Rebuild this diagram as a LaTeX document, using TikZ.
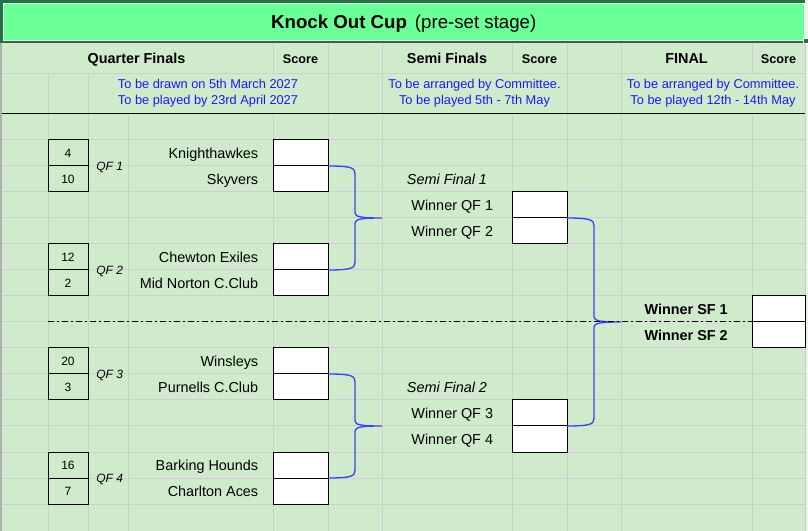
\documentclass[tikz,border=0pt]{standalone}
\usepackage{fontspec}
\setmainfont{Liberation Sans}
\usetikzlibrary{positioning,calc}
\definecolor{sheet}{HTML}{CFEBCB}
\definecolor{gridcol}{HTML}{D2CAD4}
\definecolor{banner}{HTML}{6BFF97}
\definecolor{select}{HTML}{217346}
\definecolor{note}{HTML}{1A1AF0}
\definecolor{bracecol}{HTML}{3548F0}
\definecolor{edge}{HTML}{B0B0B0}

% curly bracket from the lower box of one tie to the upper box of the next
\newcommand\joinpair[2]{%
  \path ($(#1)!0.5!(#2)+(54,0)$) coordinate (tip);
  \draw[bracket] (#1) .. controls +(24,0) and +(0,-6) .. ++(27,8)
    -- ($(tip)+(-27,-5)$) .. controls +(0,4) and +(-20,0) .. (tip)
    .. controls +(-20,0) and +(0,-4) .. ($(tip)+(-27,5)$)
    -- ($(#2)+(27,-8)$) .. controls +(0,6) and +(24,0) .. (#2);}

\begin{document}
\begin{tikzpicture}[x=0.75pt, y=-0.75pt,
    font=\fontsize{10.8}{13}\selectfont,
    seed/.style={draw, line width=0.75pt, outer sep=0pt, inner sep=0pt, minimum width=30pt, minimum height=19.5pt, font=\fontsize{9}{11}\selectfont},
    score/.style={draw, fill=white, line width=0.75pt, outer sep=0pt, minimum width=41.25pt, minimum height=19.5pt},
    team/.style={inner sep=0pt, text height=7.7pt, text depth=0pt},
    round/.style={team, font=\fontsize{10.8}{13}\selectfont\itshape},
    winner/.style={team, font=\fontsize{10.8}{13}\selectfont\bfseries},
    qf/.style={inner sep=0pt, text height=6.4pt, text depth=0pt, font=\fontsize{9}{11}\selectfont\itshape},
    head/.style={anchor=base, inner sep=0pt, font=\fontsize{10.8}{13}\selectfont\bfseries},
    scorehead/.style={anchor=base, inner sep=0pt, font=\fontsize{9.5}{11}\selectfont\bfseries},
    note/.style={anchor=base, inner sep=0pt, text=note, font=\fontsize{9.6}{12}\selectfont},
    gridline/.style={draw=gridcol, line width=0.75pt},
    bracket/.style={draw=bracecol, line width=1pt},
    divider/.style={draw=black, line width=0.75pt, dash pattern=on 4.5pt off 2.25pt on 1.5pt off 2.25pt}
  ]
  % sheet and grid
  \useasboundingbox (0,0) rectangle (808,531);
  \fill[sheet] (0,0) rectangle (808,531);
  \fill[edge] (0,43) rectangle (2,531);
  \fill[sheet!45!white] (805,0) rectangle (808,531);
  \foreach \y in {140,166,...,504} \draw[gridline] (2,\y) -- (805,\y);
  \foreach \x in {48,88,128,273,328,382,512,567,621,752,805} \draw[gridline] (\x,114) -- (\x,531);
  \draw[gridline] (2,74) -- (805,74);
  \foreach \x in {273,328,382,512,567,621,752,805} \draw[gridline] (\x,43) -- (\x,74);
  \foreach \x in {48,88,328,382,567,621,805} \draw[gridline] (\x,74) -- (\x,114);
  \draw[line width=0.75pt] (2,114) -- (805,114);

  % banner
  \fill[select] (0,0) rectangle (805,43);
  \node[draw=white, fill=banner, line width=0.75pt, minimum width=601.1pt, minimum height=28.1pt, text height=10pt, text depth=0pt, font=\fontsize{14}{16}\selectfont] (title) at (403.75,21.75) {\textbf{Knock Out Cup}\hspace{6pt}(pre-set stage)};
  \filldraw[fill=select, draw=white, line width=0.5pt] (803,38.5) rectangle (808,43.5);

  % headings
  \node[head] (hqf) at (136.5,63.4) {Quarter Finals};
  \node[scorehead] (hs1) at (300.5,63.4) {Score};
  \node[head] (hsf) at (447,63.4) {Semi Finals};
  \node[scorehead] (hs2) at (539.5,63.4) {Score};
  \node[head] (hfin) at (686.5,63.4) {FINAL};
  \node[scorehead] (hs3) at (778.5,63.4) {Score};
  \node[note] (n1a) at (208,88.3) {To be drawn on 5th March 2027};
  \node[note] (n1b) at (208,104.4) {To be played by 23rd April 2027};
  \node[note] (n2a) at (474.5,88.3) {To be arranged by Committee.};
  \node[note] (n2b) at (474.5,104.4) {To be played 5th - 7th May};
  \node[note] (n3a) at (713,88.3) {To be arranged by Committee.};
  \node[note] (n3b) at (713,104.4) {To be played 12th - 14th May};

  % quarter finals
  \node[seed] (q1a) at (68,153) {4};
  \node[seed, below=0pt of q1a] (q1b) {10};
  \node[qf, right=6pt of q1a.south east] (qf1) {QF 1};
  \node[score] (s1a) at (300.5,153) {};
  \node[score, below=0pt of s1a] (s1b) {};
  \node[team, left=10.9pt of s1a] (t1a) {Knighthawkes};
  \node[team, left=10.9pt of s1b] (t1b) {Skyvers};

  \node[seed] (q2a) at (68,257) {12};
  \node[seed, below=0pt of q2a] (q2b) {2};
  \node[qf, right=6pt of q2a.south east] (qf2) {QF 2};
  \node[score] (s2a) at (300.5,257) {};
  \node[score, below=0pt of s2a] (s2b) {};
  \node[team, left=10.9pt of s2a] (t2a) {Chewton Exiles};
  \node[team, left=10.9pt of s2b] (t2b) {Mid Norton C.Club};

  \node[seed] (q3a) at (68,361) {20};
  \node[seed, below=0pt of q3a] (q3b) {3};
  \node[qf, right=6pt of q3a.south east] (qf3) {QF 3};
  \node[score] (s3a) at (300.5,361) {};
  \node[score, below=0pt of s3a] (s3b) {};
  \node[team, left=10.9pt of s3a] (t3a) {Winsleys};
  \node[team, left=10.9pt of s3b] (t3b) {Purnells C.Club};

  \node[seed] (q4a) at (68,465) {16};
  \node[seed, below=0pt of q4a] (q4b) {7};
  \node[qf, right=6pt of q4a.south east] (qf4) {QF 4};
  \node[score] (s4a) at (300.5,465) {};
  \node[score, below=0pt of s4a] (s4b) {};
  \node[team, left=10.9pt of s4a] (t4a) {Barking Hounds};
  \node[team, left=10.9pt of s4b] (t4b) {Charlton Aces};

  % semi finals
  \node[round] (sf1) at (447,179.5) {Semi Final 1};
  \node[score] (f1a) at (539.5,205) {};
  \node[score, below=0pt of f1a] (f1b) {};
  \node[team, left=14pt of f1a] (w1) {Winner QF 1};
  \node[team, left=14pt of f1b] (w2) {Winner QF 2};

  \node[round] (sf2) at (447,387.5) {Semi Final 2};
  \node[score] (f2a) at (539.5,413) {};
  \node[score, below=0pt of f2a] (f2b) {};
  \node[team, left=14pt of f2a] (w3) {Winner QF 3};
  \node[team, left=14pt of f2b] (w4) {Winner QF 4};

  % final
  \node[score, minimum width=39.75pt] (g1a) at (778.5,309) {};
  \node[score, minimum width=39.75pt, below=0pt of g1a] (g1b) {};
  \node[winner, left=18pt of g1a] (ws1) {Winner SF 1};
  \node[winner, left=18pt of g1b] (ws2) {Winner SF 2};

  % brackets
  \joinpair{s1b.north east}{s2a.south east}
  \joinpair{s3b.north east}{s4a.south east}
  \joinpair{f1b.north east}{f2a.south east}
  \draw[divider] (q2b.south west |- g1a.south west) -- (g1a.south west);
\end{tikzpicture}
\end{document}
